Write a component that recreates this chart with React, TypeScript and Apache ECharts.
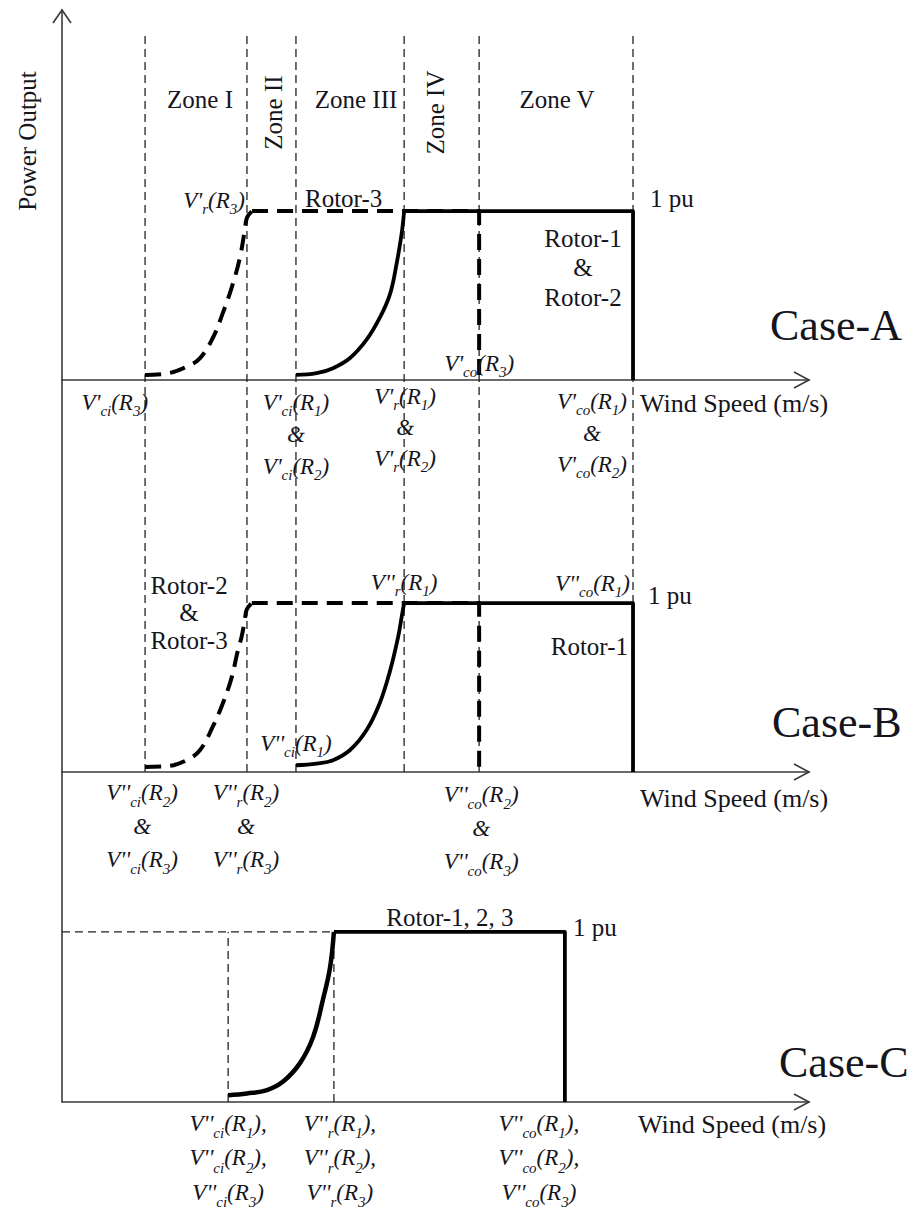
import React, { useEffect, useRef } from "react";
import * as echarts from "echarts";

type Pt = [number, number];

// ---------------- data (schematic wind-speed units on x, power in pu on y) ----------------
const X_MAX = 25;
const yMaxA = 2.19;
const yMaxB = 2.32;
const yMaxC = 1.94;
const RATED = 1;

// speed markers shared by Case-A and Case-B (zone boundaries)
const zoneBoundaries = [2.78, 6.19, 7.83, 11.45, 13.96, 19.11];
const zoneNames = ["Zone I", "Zone II", "Zone III", "Zone IV", "Zone V"];
const zoneRotated = [false, true, false, true, false];

// Case-A
const aRotor3Ramp: Pt[] = [[2.78, 0.03], [3.55, 0.04], [4.18, 0.08], [4.62, 0.13], [5.05, 0.25], [5.39, 0.4], [5.72, 0.57], [5.96, 0.73], [6.12, 0.89], [6.19, 0.96], [6.36, 1]];
const aRotor3Plateau: Pt[] = [[6.36, 1], [13.96, 1], [13.96, 0]];
const aRotor12Ramp: Pt[] = [[7.83, 0.03], [8.52, 0.04], [9.07, 0.07], [9.64, 0.13], [10.2, 0.24], [10.64, 0.37], [10.98, 0.51], [11.2, 0.69], [11.37, 0.87], [11.45, 1]];
const aRotor12Plateau: Pt[] = [[11.45, 1], [19.11, 1], [19.11, 0]];

// Case-B
const bRotor23Ramp: Pt[] = [[2.78, 0.03], [3.55, 0.035], [4.17, 0.07], [4.62, 0.13], [5.05, 0.27], [5.39, 0.41], [5.68, 0.56], [5.86, 0.7], [6.01, 0.8], [6.12, 0.9], [6.18, 0.96], [6.35, 1]];
const bRotor23Plateau: Pt[] = [[6.35, 1], [13.96, 1], [13.96, 0]];
const bRotor1Ramp: Pt[] = [[7.83, 0.04], [8.52, 0.05], [9.07, 0.07], [9.64, 0.13], [10.2, 0.25], [10.64, 0.41], [10.98, 0.6], [11.25, 0.8], [11.37, 0.92], [11.45, 1]];
const bRotor1Plateau: Pt[] = [[11.45, 1], [19.11, 1], [19.11, 0]];

// Case-C
const cSpeeds = [5.56, 9.1, 16.83]; // cut-in, rated, cut-out
const cRamp: Pt[] = [[5.56, 0.04], [6.19, 0.05], [6.86, 0.07], [7.4, 0.12], [7.97, 0.23], [8.4, 0.38], [8.73, 0.6], [8.97, 0.79], [9.1, 1]];
const cPlateau: Pt[] = [[9.1, 1], [16.83, 1], [16.83, 0]];

// text captions
const yAxisTitle = "Power Output";
const xAxisTitle = "Wind Speed (m/s)";
const ratedText = "1 pu";
const caseNames = ["Case-A", "Case-B", "Case-C"];

// ---------------- layout / style ----------------
const GL = 62;
const GW = 747;
const A_TOP = 10, A_H = 370;
const B_TOP = 380, B_H = 392;
const C_TOP = 772, C_H = 330;
const Z_TOP = 32, Z_H = 740;

const SERIF = "Liberation Serif";
const INK = "#15151d";
const AXIS = "#3a3a3a";

const richFor = (lh: number) => ({
  v: { fontFamily: SERIF, fontStyle: "italic", fontSize: 23, lineHeight: lh, color: INK },
  s: { fontFamily: SERIF, fontStyle: "italic", fontSize: 15, lineHeight: Math.max(lh - 23, 4), verticalAlign: "bottom", color: INK },
});

const vLabel = (primes: string, sub: string, r: number, tail = "") =>
  `{v|V${primes}}{s|${sub}}{v|(R}{s|${r}}{v|)${tail}}`;
const amp = "{v|&}";

type TagOpt = { align?: string; va?: string; dx?: number; dy?: number; lh?: number; rotate?: number; plain?: boolean; size?: number };

const tag = (value: Pt, text: string, o: TagOpt = {}) => ({
  value,
  label: {
    show: true,
    position: "inside",
    formatter: text,
    align: o.align ?? "center",
    verticalAlign: o.va ?? "middle",
    offset: [o.dx ?? 0, o.dy ?? 0],
    rotate: o.rotate ?? 0,
    color: INK,
    opacity: 1,
    fontFamily: SERIF,
    fontSize: o.size ?? 25,
    lineHeight: o.plain ? o.lh : undefined,
    fontStyle: o.plain ? "normal" : "italic",
    rich: o.plain ? undefined : richFor(o.lh ?? 32),
  },
});

const labelSeries = (axis: number, data: any[]) => ({
  type: "scatter",
  xAxisIndex: axis,
  yAxisIndex: axis,
  symbolSize: 1,
  itemStyle: { color: "rgba(0,0,0,0)" },
  silent: true,
  clip: false,
  z: 10,
  data,
});

const lineSeries = (axis: number, data: Pt[], style: any, smooth: number | boolean = false) => ({
  type: "line",
  xAxisIndex: axis,
  yAxisIndex: axis,
  data,
  symbol: "none",
  smooth,
  silent: true,
  clip: false,
  lineStyle: { color: "#000", cap: "butt", join: "round", ...style },
  z: 5,
});

const thinDash = { type: [8, 5], width: 1.3, color: "#222" };
const thickDash = { type: [16, 9], width: 4 };
const solid = { width: 3.8 };

const chevron = (pts: number[][]) => ({
  type: "polyline",
  z: 20,
  shape: { points: pts },
  style: { stroke: AXIS, lineWidth: 1.6, fill: null },
});

function buildOption(): any {
  const axisBase = (i: number, show: boolean, max: number) => ({
    gridIndex: i,
    type: "value",
    min: 0,
    max,
    show,
    axisLine: { show, onZero: true, lineStyle: { color: AXIS, width: 1.6 } },
    axisTick: { show: false },
    axisLabel: { show: false },
    splitLine: { show: false },
  });

  const zb = zoneBoundaries;
  const zoneMids = zoneNames.map((_, i) => (zb[i] + zb[i + 1]) / 2);
  const zoneDx = [4, 2, 6, -6, 1];
  const ZONE_Y = 1.66;

  const aLabels = [
    tag([zb[0], 0], vLabel("'", "ci", 3), { align: "right", dx: 3, dy: 22 }),
    tag([zb[2], 0], [vLabel("'", "ci", 1), amp, vLabel("'", "ci", 2)].join("\n"), { va: "top", dy: 6, lh: 32 }),
    tag([zb[3], 0], [vLabel("'", "r", 1), amp, vLabel("'", "r", 2)].join("\n"), { va: "top", dx: 1, dy: 1, lh: 31 }),
    tag([zb[5], 0], [vLabel("'", "co", 1), amp, vLabel("'", "co", 2)].join("\n"), { va: "top", dx: -41, dy: 6, lh: 31.5 }),
    tag([zb[4], 0], vLabel("'", "co", 3), { dy: -17 }),
    tag([zb[1], RATED], vLabel("'", "r", 3), { align: "right", dx: -2, dy: -11 }),
    ...zoneNames.map((n, i) =>
      zoneRotated[i]
        ? tag([zoneMids[i], ZONE_Y], n, { plain: true, dx: -13, dy: zoneDx[i], rotate: 90 })
        : tag([zoneMids[i], ZONE_Y], n, { plain: true, dx: zoneDx[i], dy: 0 })
    ),
    tag([0, 0], yAxisTitle, { plain: true, rotate: 90, dx: 239, dy: -35 }),
    tag([zb[1], RATED], "Rotor-3", { plain: true, align: "left", dx: 58, dy: -13 }),
    tag([zb[5], RATED], ratedText, { plain: true, align: "left", dx: 17, dy: -13 }),
    tag([zb[5], RATED], "Rotor-1\n&\nRotor-2", { plain: true, dx: -50, dy: 56.5, lh: 29.5 }),
    tag([0, 0], caseNames[0], { plain: true, align: "left", size: 44, dx: 708, dy: -55 }),
    tag([X_MAX, 0], xAxisTitle, { plain: true, align: "left", size: 26, dx: -169, dy: 23 }),
  ];

  const bLabels = [
    tag([zb[3], RATED], vLabel("''", "r", 1), { dy: -21 }),
    tag([zb[5], RATED], vLabel("''", "co", 1), { align: "right", dx: -3, dy: -20 }),
    tag([zb[2], 0], vLabel("''", "ci", 1), { dy: -29 }),
    tag([zb[0], 0], [vLabel("''", "ci", 2), amp, vLabel("''", "ci", 3)].join("\n"), { va: "top", dx: -3, dy: 4, lh: 33.5 }),
    tag([zb[1], 0], [vLabel("''", "r", 2), amp, vLabel("''", "r", 3)].join("\n"), { va: "top", dx: -1, dy: 4, lh: 33.5 }),
    tag([zb[4], 0], [vLabel("''", "co", 2), amp, vLabel("''", "co", 3)].join("\n"), { va: "top", dx: 2, dy: 6, lh: 33.5 }),
    tag([zb[0], RATED], "Rotor-2\n&\nRotor-3", { plain: true, dx: 44, dy: 9.5, lh: 27.5 }),
    tag([zb[5], RATED], ratedText, { plain: true, align: "left", dx: 15, dy: -8 }),
    tag([zb[5], RATED], "Rotor-1", { plain: true, align: "right", dx: -5, dy: 43 }),
    tag([0, 0], caseNames[1], { plain: true, align: "left", size: 44, dx: 710, dy: -50 }),
    tag([X_MAX, 0], xAxisTitle, { plain: true, align: "left", size: 26, dx: -169, dy: 26 }),
  ];

  const cLabels = [
    tag([cSpeeds[0], 0], [vLabel("''", "ci", 1, ","), vLabel("''", "ci", 2, ","), vLabel("''", "ci", 3)].join("\n"), { va: "top", dy: 4, lh: 34.5 }),
    tag([cSpeeds[1], 0], [vLabel("''", "r", 1, ","), vLabel("''", "r", 2, ","), vLabel("''", "r", 3)].join("\n"), { va: "top", dx: 6, dy: 4, lh: 34.5 }),
    tag([cSpeeds[2], 0], [vLabel("''", "co", 1, ","), vLabel("''", "co", 2, ","), vLabel("''", "co", 3)].join("\n"), { va: "top", dx: -26, dy: 4, lh: 34.5 }),
    tag([cSpeeds[1], RATED], "Rotor-1, 2, 3", { plain: true, dx: 116, dy: -14 }),
    tag([cSpeeds[2], RATED], ratedText, { plain: true, align: "left", dx: 8, dy: -4 }),
    tag([0, 0], caseNames[2], { plain: true, align: "left", size: 44, dx: 717, dy: -40 }),
    tag([X_MAX, 0], xAxisTitle, { plain: true, align: "left", size: 26, dx: -171, dy: 22 }),
  ];

  const aAxisY = A_TOP + A_H;
  const bAxisY = B_TOP + B_H;
  const cAxisY = C_TOP + C_H;
  const tipX = GL + GW;

  return {
    animation: false,
    backgroundColor: "#ffffff",
    textStyle: { fontFamily: SERIF },
    grid: [
      { left: GL, top: A_TOP, width: GW, height: A_H },
      { left: GL, top: B_TOP, width: GW, height: B_H },
      { left: GL, top: C_TOP, width: GW, height: C_H },
      { left: GL, top: Z_TOP, width: GW, height: Z_H },
    ],
    xAxis: [axisBase(0, true, X_MAX), axisBase(1, true, X_MAX), axisBase(2, true, X_MAX), axisBase(3, false, X_MAX)],
    yAxis: [axisBase(0, true, yMaxA), axisBase(1, true, yMaxB), axisBase(2, true, yMaxC), axisBase(3, false, 1)],
    series: [
      // zone boundary verticals through Case-A and Case-B
      ...zb.map((x) => lineSeries(3, [[x, 0], [x, 1]], thinDash)),
      // Case-C guides
      ...cSpeeds.slice(0, 2).map((x) => lineSeries(2, [[x, 0], [x, RATED]], thinDash)),
      lineSeries(2, [[0, RATED], [cSpeeds[1], RATED]], thinDash),
      // Case-A curves
      lineSeries(0, aRotor3Ramp, thickDash, 0.4),
      lineSeries(0, aRotor3Plateau, thickDash),
      lineSeries(0, aRotor12Ramp, solid, 0.4),
      lineSeries(0, aRotor12Plateau, solid),
      // Case-B curves
      lineSeries(1, bRotor23Ramp, thickDash, 0.4),
      lineSeries(1, bRotor23Plateau, thickDash),
      lineSeries(1, bRotor1Ramp, solid, 0.4),
      lineSeries(1, bRotor1Plateau, solid),
      // Case-C curve
      lineSeries(2, cRamp, { width: 4.5 }, 0.4),
      lineSeries(2, cPlateau, solid),
      // labels
      labelSeries(0, aLabels),
      labelSeries(1, bLabels),
      labelSeries(2, cLabels),
    ],
    graphic: [
      chevron([[GL - 9, A_TOP + 13], [GL, A_TOP], [GL + 9, A_TOP + 13]]),
      chevron([[tipX - 15, aAxisY - 8], [tipX, aAxisY], [tipX - 15, aAxisY + 8]]),
      chevron([[tipX - 15, bAxisY - 8], [tipX, bAxisY], [tipX - 15, bAxisY + 8]]),
      chevron([[tipX - 15, cAxisY - 8], [tipX, cAxisY], [tipX - 15, cAxisY + 8]]),
    ],
  };
}

export default function App() {
  const ref = useRef<HTMLDivElement>(null);
  useEffect(() => {
    if (!ref.current) return;
    const chart = echarts.init(ref.current, undefined, { renderer: "svg" });
    chart.setOption(buildOption());
    return () => chart.dispose();
  }, []);
  return (
    <div
      ref={ref}
      style={{ position: "fixed", left: 0, top: 0, width: 911, height: 1213, background: "#fff" }}
    />
  );
}
